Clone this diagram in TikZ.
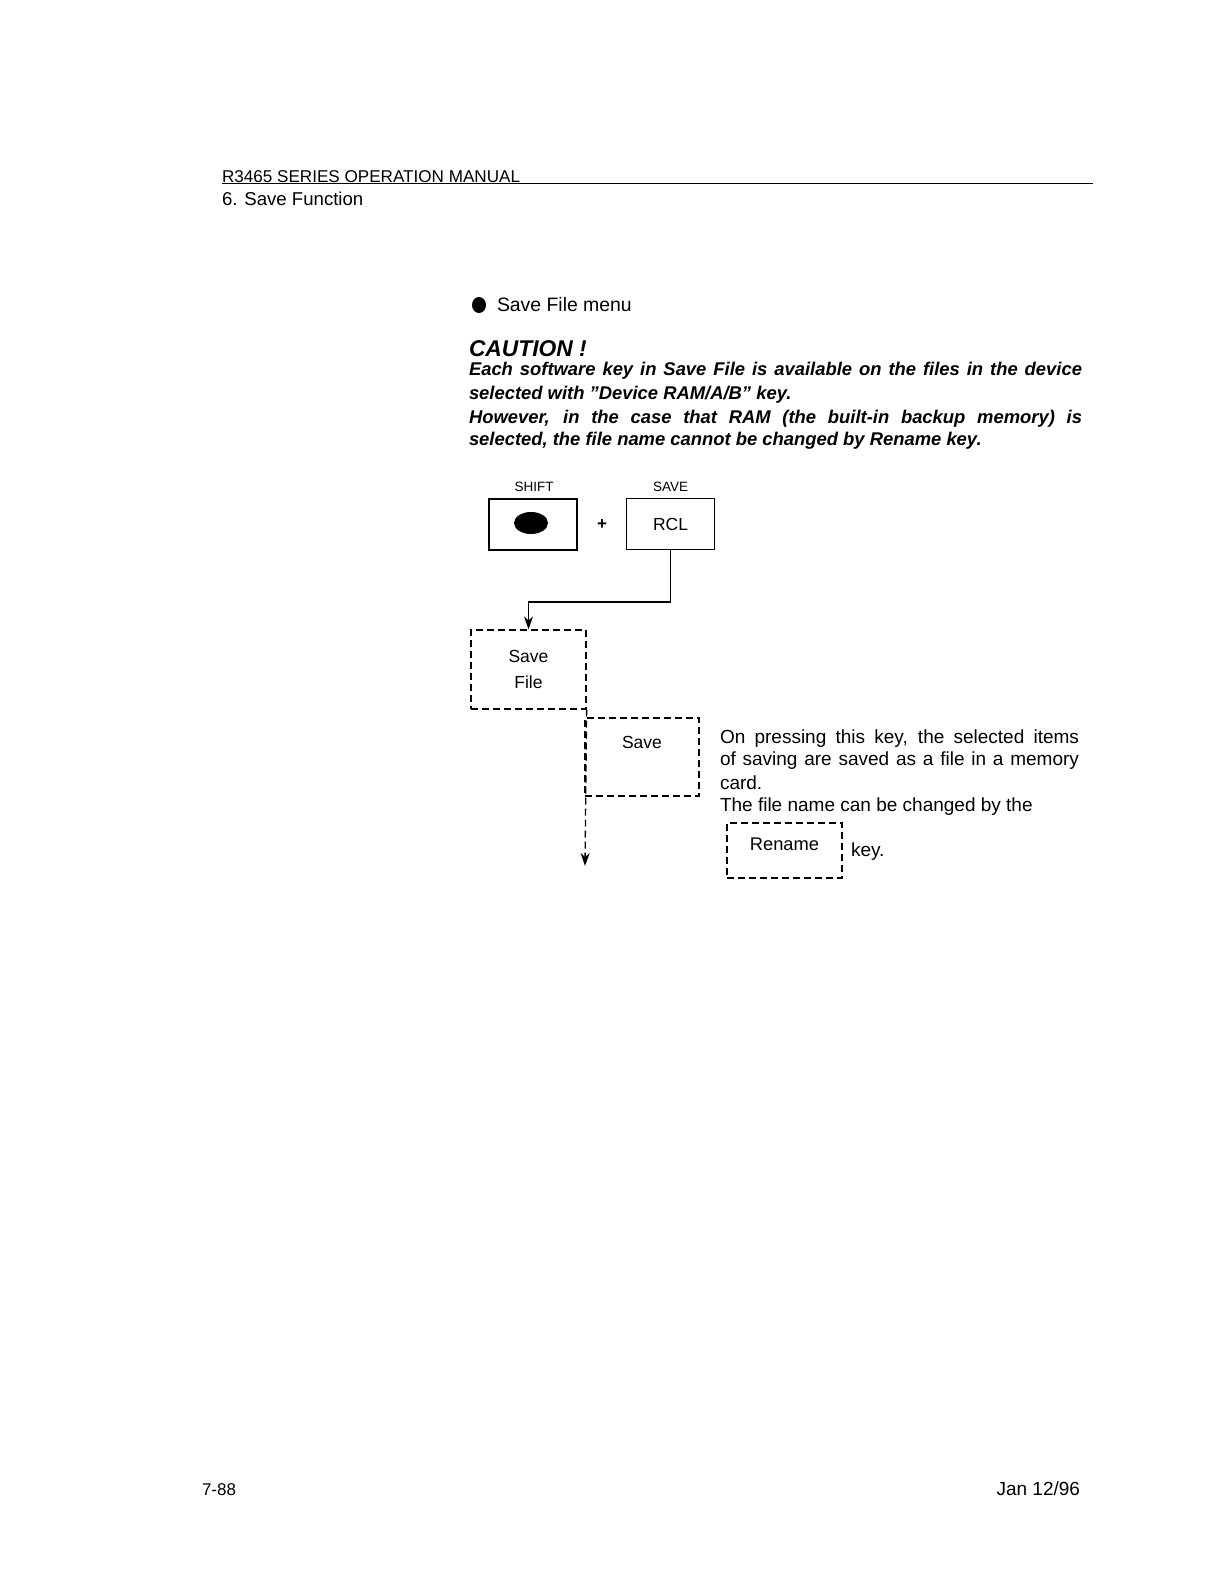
\documentclass[tikz,border=0pt]{standalone}
\usepackage{fontspec}
\setmainfont{Liberation Sans}
\usetikzlibrary{arrows.meta,shapes.geometric}
\newcommand\myfs[1]{\fontsize{#1}{#1}\selectfont}
\begin{document}
\begin{tikzpicture}[x=1pt,y=-1pt,
  txt/.style={anchor=base west,inner sep=0pt,outer sep=0pt},
  caut/.style={txt,font=\myfs{18.4}\bfseries\itshape},
  desc/.style={txt,font=\myfs{19}},
  keybox/.style={draw,line width=1.2pt,minimum width=88pt,minimum height=51pt,inner sep=0pt,font=\myfs{17.5}},
  softkey/.style={draw,dash pattern=on 7pt off 4pt,line width=1.3pt,inner sep=0pt,font=\myfs{17.5},align=center},
  keylbl/.style={anchor=base,inner sep=0pt,font=\myfs{13.5}},
  conn/.style={line width=1.2pt},
  arrowtip/.style={-{Stealth[length=13pt,width=9pt]}}
]
\useasboundingbox[fill=white] (0,0) rectangle (1224,1584);

% header
\node[txt,font=\myfs{17.1}] (hdr) at (222,182) {R3465 SERIES OPERATION MANUAL};
\draw[line width=1.2pt] (222,183.5) -- (1093,183.5);
\node[txt,font=\myfs{18.6}] (sec) at (222,205) {6. Save Function};

% title
\node[ellipse,fill=black,minimum width=14pt,minimum height=16pt,inner sep=0pt] (bul) at (479,305) {};
\node[txt,font=\myfs{19.4}] (menu) at (497,311) {Save File menu};

% caution
\node[txt,font=\myfs{22.8}\bfseries\itshape] (cau) at (469,356) {CAUTION !};
\node[caut] (c1) at (469,375) {\makebox[613pt][s]{Each software key in Save File is available on the files in the device}};
\node[caut] (c2) at (469,399) {selected with "Device RAM/A/B" key.};
\node[caut] (c3) at (469,423) {\makebox[613pt][s]{However, in the case that RAM (the built-in backup memory) is}};
\node[caut] (c4) at (469,445) {selected, the file name cannot be changed by Rename key.};

% keys
\node[keylbl] (shiftl) at (534,491) {SHIFT};
\node[keybox] (shift) at (533,524.5) {};
\node[ellipse,fill=black,minimum width=34pt,minimum height=22pt,inner sep=0pt] (oval) at (531,523) {};
\node[inner sep=0pt,font=\myfs{17}\bfseries] (plus) at (602,525) {+};
\node[keylbl] (savel) at (670.5,491) {SAVE};
\node[keybox] (rcl) at (670.5,524) {RCL};

% soft keys
\node[softkey,minimum width=115pt,minimum height=79pt] (sf) at (528.5,669.5) {Save\\[8pt]File};
\node[softkey,minimum width=114pt,minimum height=78pt] (sv) at (642,757) {Save\\[6pt]\strut};
\coordinate (bend) at (670.5,602);
\coordinate (down) at (585,866);
\draw[conn,arrowtip] (rcl.south) -- (bend) -| (sf.north);
\draw[dash pattern=on 7pt off 4pt,line width=1.3pt,arrowtip] (sf.south east) -- (down);

% description
\node[desc] (d1) at (720,743) {\makebox[359pt][s]{On pressing this key, the selected items}};
\node[desc] (d2) at (720,765) {\makebox[359pt][s]{of saving are saved as a file in a memory}};
\node[desc] (d3) at (720,789) {card.};
\node[desc] (d4) at (720,811) {The file name can be changed by the};
\node[softkey,minimum width=115pt,minimum height=55pt,font=\myfs{18.3}] (ren) at (784.5,850.5) {Rename\\[-12pt]\strut};
\node[desc] (key) at (851,856) {key.};

% footer
\node[txt,font=\myfs{17}] (pg) at (202,1495) {7-88};
\node[txt,font=\myfs{19},anchor=base east] (dt) at (1080,1495) {Jan 12/96};
\end{tikzpicture}
\end{document}
